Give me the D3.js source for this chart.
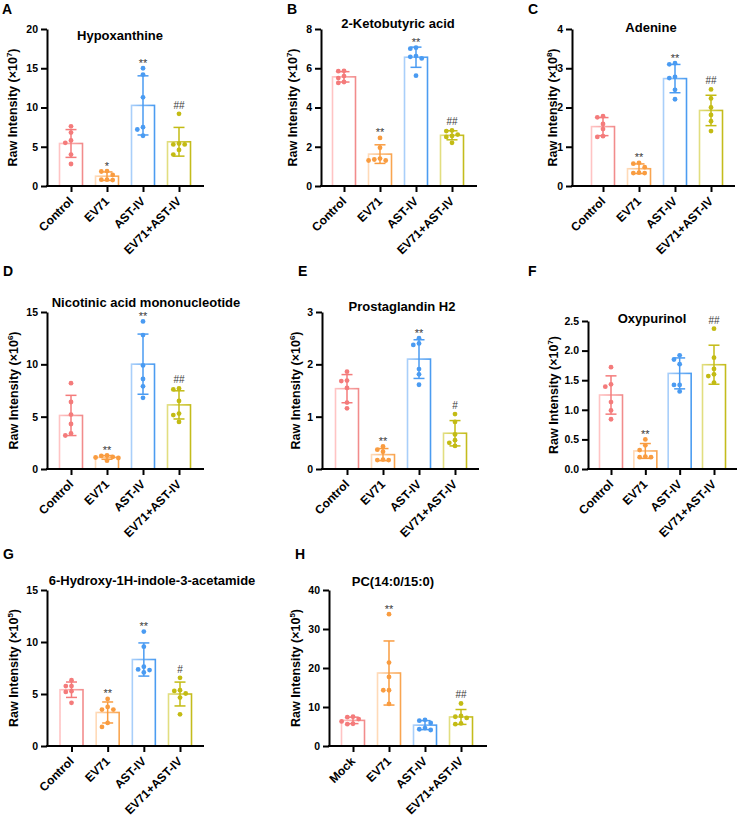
<!DOCTYPE html>
<html>
<head>
<meta charset="utf-8">
<script src="https://cdn.jsdelivr.net/npm/d3@7"></script>
<style>
  body { margin: 0; background: #fff; }
  svg { font-family: "Liberation Sans", Arial, sans-serif; font-weight: bold; }
</style>
</head>
<body>
<div id="chart"></div>
<script>
// groups and labels
var groups = ["Control", "EV71", "AST-IV", "EV71+AST-IV"];
var groupsH = ["Mock", "EV71", "AST-IV", "EV71+AST-IV"];
var letters = ["A", "B", "C", "D", "E", "F", "G", "H"];
var titles = ["Hypoxanthine", "2-Ketobutyric acid", "Adenine", "Nicotinic acid mononucleotide",
              "Prostaglandin H2", "Oxypurinol", "6-Hydroxy-1H-indole-3-acetamide", "PC(14:0/15:0)"];
var exponents = ["7", "7", "8", "6", "6", "7", "5", "5"];
var yMaxes = [20, 8, 4, 15, 3, 2.5, 15, 40];
var yTicks = [[0, 5, 10, 15, 20], [0, 2, 4, 6, 8], [0, 1, 2, 3, 4], [0, 5, 10, 15],
              [0, 1, 2, 3], [0, 0.5, 1, 1.5, 2, 2.5], [0, 5, 10, 15], [0, 10, 20, 30, 40]];
var marks = [["", "*", "**", "##"], ["", "**", "**", "##"], ["", "**", "**", "##"], ["", "**", "**", "##"],
             ["", "**", "**", "#"], ["", "**", "", "##"], ["", "**", "**", "#"], ["", "**", "", "##"]];

// replicate values per group (n = 6)
var hypoxanthine = [[7.6, 6.8, 5.8, 5.5, 4.0, 2.8], [1.9, 1.85, 1.4, 0.8, 0.75, 0.8],
                    [15.0, 14.2, 11.3, 7.5, 7.2, 6.4], [9.2, 5.4, 5.3, 5.3, 4.6, 4.0]];
var ketobutyric = [[5.87, 5.85, 5.6, 5.5, 5.3, 5.25], [2.45, 1.95, 1.4, 1.35, 1.3, 1.3],
                   [7.05, 7.0, 6.62, 6.58, 6.5, 5.62], [2.83, 2.8, 2.62, 2.55, 2.5, 2.2]];
var adenine = [[1.78, 1.75, 1.58, 1.45, 1.27, 1.25], [0.59, 0.57, 0.48, 0.34, 0.33, 0.33],
               [3.13, 3.1, 2.78, 2.75, 2.45, 2.21], [2.46, 2.23, 2.0, 1.81, 1.65, 1.4]];
var nicotinic = [[8.2, 6.4, 5.2, 4.3, 3.4, 3.2], [1.3, 1.25, 1.15, 1.1, 1.05, 0.8],
                 [14.1, 12.8, 9.9, 8.6, 7.9, 6.8], [7.7, 7.6, 6.5, 5.3, 5.15, 4.5]];
var prostaglandin = [[1.86, 1.69, 1.68, 1.55, 1.27, 1.16], [0.43, 0.37, 0.33, 0.17, 0.17, 0.18],
                     [2.5, 2.4, 2.37, 1.91, 1.81, 1.61], [1.05, 0.9, 0.66, 0.55, 0.5, 0.44]];
var oxypurinol = [[1.72, 1.43, 1.39, 1.13, 0.99, 0.84], [0.5, 0.4, 0.32, 0.2, 0.2, 0.21],
                  [1.92, 1.85, 1.77, 1.42, 1.42, 1.31], [2.37, 1.88, 1.69, 1.6, 1.57, 1.46]];
var hydroxyindole = [[6.33, 5.76, 5.76, 5.27, 5.2, 4.15], [4.53, 3.76, 3.5, 3.5, 2.22, 1.83],
                     [11.0, 9.55, 7.62, 7.36, 7.3, 7.07], [6.56, 5.37, 5.3, 5.05, 4.66, 3.05]];
var pc14_15 = [[7.5, 7.4, 6.9, 6.3, 5.7, 5.6], [33.8, 21.4, 17.7, 14.3, 14.3, 10.8],
               [6.7, 6.5, 5.9, 4.3, 4.1, 4.6], [10.9, 7.7, 7.5, 7.2, 5.8, 5.6]];

var allValues = [hypoxanthine, ketobutyric, adenine, nicotinic, prostaglandin, oxypurinol, hydroxyindole, pc14_15];

// colours per group: light / dark outline, point colour
var light = ["#ffc4c4", "#ffdab8", "#a9cffa", "#e2de80"];
var dark = ["#f28c8c", "#f9a550", "#4b9cf1", "#c4bc1c"];
var dots = ["#f47b7b", "#f99c40", "#4a9bf2", "#c3bb14"];

// panel frames on the page
var layout = [
  {ax: 47, x1: 204, c0: 71, c3: 179, top: 29, bot: 186, lx: 12.5, tx: 120, ty: 40, kx: 2, ky: 13.5},
  {ax: 321, x1: 477, c0: 344, c3: 452, top: 29, bot: 186, lx: 293, tx: 398, ty: 28, kx: 287, ky: 13.5},
  {ax: 572, x1: 735, c0: 603, c3: 711, top: 29, bot: 186, lx: 553, tx: 651, ty: 32, kx: 528, ky: 13.5},
  {ax: 47, x1: 204, c0: 71, c3: 179, top: 312, bot: 469, lx: 13.3, tx: 146, ty: 306.5, kx: 3, ky: 276},
  {ax: 322, x1: 479, c0: 347, c3: 455, top: 312, bot: 469, lx: 296, tx: 402, ty: 310.5, kx: 298, ky: 276},
  {ax: 588, x1: 737, c0: 611, c3: 714, top: 321, bot: 469, lx: 554, tx: 652, ty: 322.5, kx: 528, ky: 276},
  {ax: 47, x1: 204, c0: 71.5, c3: 180, top: 590, bot: 746, lx: 13.3, tx: 152, ty: 585, kx: 3, ky: 559},
  {ax: 329, x1: 487, c0: 353, c3: 461, top: 590, bot: 746, lx: 296, tx: 393, ty: 586, kx: 295, ky: 559}
];

var svg = d3.select("#chart").append("svg")
            .attr("width", 737)
            .attr("height", 817);

var defs = svg.append("defs");
groups.forEach(function(gname, k) {
  var grad = defs.append("linearGradient")
                 .attr("id", "outline" + k)
                 .attr("x1", 0).attr("x2", 1).attr("y1", 0).attr("y2", 0);
  grad.append("stop").attr("offset", "0%").attr("stop-color", light[k]);
  grad.append("stop").attr("offset", "100%").attr("stop-color", dark[k]);
});

var barW = 23, capW = 11, r = 2.4;

allValues.forEach(function(vals, i) {
  var L = layout[i];
  var cats = i == 7 ? groupsH : groups;
  var g = svg.append("g");

  var y = d3.scaleLinear().domain([0, yMaxes[i]]).range([L.bot, L.top]);
  var x = d3.scalePoint().domain(cats).range([L.c0, L.c3]);
  var fmt = i == 5 ? d3.format(".1f") : d3.format("d");

  // panel letter + title
  g.append("text")
   .attr("x", L.kx).attr("y", L.ky)
   .style("font-size", "14px")
   .text(letters[i]);
  g.append("text")
   .attr("x", L.tx).attr("y", L.ty)
   .attr("text-anchor", "middle")
   .style("font-size", "13px")
   .text(titles[i]);

  // bars
  vals.forEach(function(v, k) {
    var m = d3.mean(v), sd = d3.deviation(v);
    var cx = x(cats[k]);
    g.append("rect")
     .attr("x", cx - barW / 2)
     .attr("y", y(m))
     .attr("width", barW)
     .attr("height", L.bot - y(m))
     .attr("fill", "#fff")
     .attr("stroke", "url(#outline" + k + ")")
     .attr("stroke-width", 1.6);

    // error bar (mean +/- SD)
    var eb = g.append("g").attr("stroke", dots[k]).attr("stroke-width", 1.5);
    eb.append("line").attr("x1", cx).attr("x2", cx).attr("y1", y(m - sd)).attr("y2", y(m + sd));
    [m - sd, m + sd].forEach(function(e) {
      eb.append("line").attr("x1", cx - capW / 2).attr("x2", cx + capW / 2).attr("y1", y(e)).attr("y2", y(e));
    });

    // points, spread sideways where they would overlap
    var placed = [];
    v.slice().sort(function(a, b) { return b - a; }).forEach(function(d) {
      var py = y(d);
      var offs = [0, -5.7, 5.7, -11.4, 11.4];
      var px = cx;
      for (var o = 0; o < offs.length; o++) {
        var ok = placed.every(function(q) {
          return Math.hypot(q[0] - (cx + offs[o]), q[1] - py) >= 4.8;
        });
        if (ok) { px = cx + offs[o]; break; }
      }
      placed.push([px, py]);
    });
    g.selectAll(null)
     .data(placed)
     .enter()
     .append("circle")
     .attr("cx", function(d) { return d[0]; })
     .attr("cy", function(d) { return d[1]; })
     .attr("r", r)
     .attr("fill", dots[k]);

    // significance marks
    var mk = marks[i][k];
    if (mk) {
      var yHi = Math.min(y(d3.max(v)), y(m + sd));
      var star = mk.charAt(0) == "*";
      g.append("text")
       .attr("x", cx)
       .attr("y", star ? yHi - 1.5 : yHi - 5)
       .attr("text-anchor", "middle")
       .attr("fill", "#3a3a3a")
       .style("font-weight", "normal")
       .style("font-size", star ? "11px" : "10px")
       .text(mk);
    }
  });

  // y axis
  var yAxis = g.append("g")
               .attr("transform", "translate(" + L.ax + ",0)")
               .call(d3.axisLeft(y).tickValues(yTicks[i]).tickFormat(fmt).tickSize(6).tickSizeOuter(0).tickPadding(3));
  yAxis.selectAll("path, line").attr("stroke", "#000").attr("stroke-width", 2);
  yAxis.selectAll("text")
       .attr("fill", "#000")
       .style("font-family", "'Liberation Sans', Arial, sans-serif")
       .style("font-weight", "bold")
       .style("font-size", "10.5px");

  // x axis line + ticks
  g.append("line")
   .attr("x1", L.ax - 1).attr("x2", L.x1)
   .attr("y1", L.bot).attr("y2", L.bot)
   .attr("stroke", "#000").attr("stroke-width", 2);
  var xAxis = g.append("g")
               .attr("transform", "translate(0," + L.bot + ")")
               .call(d3.axisBottom(x).tickSize(6).tickSizeOuter(0));
  xAxis.select(".domain").remove();
  xAxis.selectAll("text").remove();
  xAxis.selectAll("line").attr("stroke", "#000").attr("stroke-width", 2);

  g.selectAll(null)
   .data(cats)
   .enter()
   .append("text")
   .attr("text-anchor", "end")
   .attr("transform", function(d) { return "translate(" + (x(d) + 3) + "," + (L.bot + 16) + ") rotate(-45)"; })
   .style("font-size", "12px")
   .text(function(d) { return d; });

  // y label with exponent
  var yl = g.append("text")
            .attr("transform", "translate(" + L.lx + "," + ((L.top + L.bot) / 2) + ") rotate(-90)")
            .attr("text-anchor", "middle")
            .attr("dy", "0.35em")
            .style("font-size", "12.5px");
  yl.append("tspan").text("Raw Intensity (×10");
  yl.append("tspan").attr("dy", -5).style("font-size", "8px").text(exponents[i]);
  yl.append("tspan").attr("dy", 5).text(")");
});
</script>
</body>
</html>
